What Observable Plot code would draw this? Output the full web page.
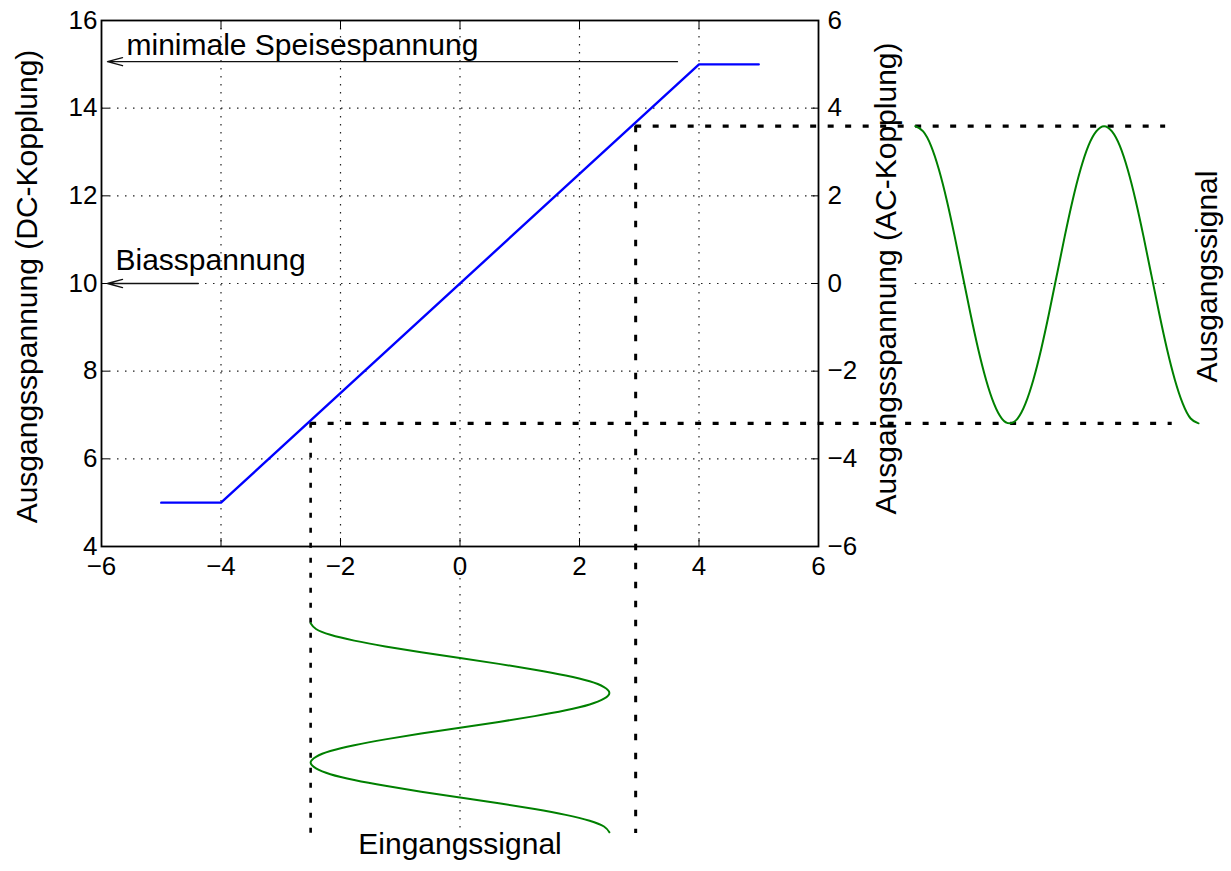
<!DOCTYPE html>
<html>
<head>
<meta charset="utf-8">
<script src="https://cdn.jsdelivr.net/npm/d3@7"></script>
<script src="https://cdn.jsdelivr.net/npm/@observablehq/plot@0.6"></script>
<style>
  html, body { margin: 0; padding: 0; background: #fff; }
  #chart { position: absolute; left: 0; top: 0; }
</style>
</head>
<body>
<div id="chart"></div>
<script>
// ---------- data ----------
// transfer characteristic (output DC voltage vs input voltage)
const transferX = [-5, -4, 4, 5];
const transferY = [5, 5, 15, 15];

// signals, sampled by phase (degrees)
const phase = [0,15,30,45,60,75,90,105,120,135,150,165,180,195,210,225,240,255,270,285,300,315,330,345,360,375,390,405,420,435,450,465,480,495,510,525,540];
const inputSignal = [-2.50,-2.41,-2.17,-1.77,-1.25,-0.65,0,0.65,1.25,1.77,2.17,2.41,2.50,2.41,2.17,1.77,1.25,0.65,0,-0.65,-1.25,-1.77,-2.17,-2.41,-2.50,-2.41,-2.17,-1.77,-1.25,-0.65,0,0.65,1.25,1.77,2.17,2.41,2.50];
const outputSignal = [3.59,3.47,3.14,2.60,1.90,1.08,0.20,-0.68,-1.50,-2.20,-2.74,-3.08,-3.19,-3.08,-2.74,-2.20,-1.50,-0.68,0.20,1.08,1.90,2.60,3.14,3.47,3.59,3.47,3.14,2.60,1.90,1.08,0.20,-0.68,-1.50,-2.20,-2.74,-3.08,-3.19];

const biasDC = 10;                 // AC = DC - bias
const markerIn = [-2.5, 2.94];     // input levels (vertical dashed)
const markerOut = [-3.19, 3.59];   // output levels AC (horizontal dashed)

const xTicks = [-6, -4, -2, 0, 2, 4, 6];
const dcTicks = [4, 6, 8, 10, 12, 14, 16];
const gridXTicks = [-4, -2, 0, 2, 4];
const gridYTicks = [6, 8, 10, 12, 14];

const annText = ["minimale Speisespannung", "Biasspannung"];
const annY = [15.06, 10];
const annFromX = [3.64, -4.38];
const annToX = [-5.9, -5.9];

// ---------- layout ----------
const W = 1231, H = 871;
const frameL = 101, frameR = 818, frameT = 20, frameB = 546;
// side panels placed in axis units (extrapolated scales)
const outPanelX = [7.62, 12.36];    // right panel: phase 0..540 along x
const inPanelY = [2.25, -2.52];     // bottom panel: phase 0..540 along y (DC units)
const zeroLineEndX = 11.86, upperDashEndX = 11.81, lowerDashEndX = 11.92;
const panelBottomY = -2.55, inZeroTopY = 3.45;

const outPos = d3.scaleLinear().domain([0, 540]).range(outPanelX);
const inPos = d3.scaleLinear().domain([0, 540]).range(inPanelY);
const outRows = phase.map((p, i) => ({x: outPos(p), y: outputSignal[i] + biasDC}));
const inRows = phase.map((p, i) => ({x: inputSignal[i], y: inPos(p)}));
const transfer = transferX.map((x, i) => ({x, y: transferY[i]}));
const ann = annText.map((t, i) => ({t, y: annY[i], x1: annFromX[i], x2: annToX[i]}));

const fmt = d3.format("d");
const dotted = {stroke: "#222", strokeWidth: 1.2, strokeDasharray: "1.5,6.5"};

const chart = Plot.plot({
  width: W, height: H,
  marginLeft: frameL, marginRight: W - frameR, marginTop: frameT, marginBottom: H - frameB,
  style: {fontFamily: "'Liberation Sans', Arial, sans-serif", fontSize: "26px", background: "#fff", color: "#000"},
  x: {domain: [-6, 6]},
  y: {domain: [4, 16]},
  marks: [
    Plot.gridX({ticks: gridXTicks, ...dotted, strokeOpacity: 1}),
    Plot.gridY({ticks: gridYTicks, ...dotted, strokeOpacity: 1}),
    Plot.ruleY([biasDC], {x1: outPanelX[0], x2: zeroLineEndX, ...dotted}),
    Plot.ruleX([0], {y1: inZeroTopY, y2: panelBottomY, ...dotted}),
    Plot.frame({stroke: "#000", strokeWidth: 1.8}),
    Plot.axisX({ticks: xTicks, anchor: "bottom", tickSize: -8, tickPadding: 18, label: null, tickFormat: fmt}),
    Plot.axisX({ticks: xTicks, anchor: "top", tickSize: -8, label: null, tickFormat: () => ""}),
    Plot.axisY({ticks: dcTicks, anchor: "left", tickSize: -8, tickPadding: 12, label: null, tickFormat: fmt}),
    Plot.axisY({ticks: dcTicks, anchor: "right", tickSize: -8, tickPadding: 17, label: null, tickFormat: d => fmt(d - biasDC)}),
    // dashed construction lines
    Plot.ruleY([markerOut[0] + biasDC], {x1: markerIn[0], x2: lowerDashEndX, stroke: "#000", strokeWidth: 3.2, strokeDasharray: "6,11.5"}),
    Plot.ruleY([markerOut[1] + biasDC], {x1: markerIn[1], x2: upperDashEndX, stroke: "#000", strokeWidth: 3.2, strokeDasharray: "6,11.5"}),
    Plot.ruleX([markerIn[0]], {y1: markerOut[0] + biasDC, y2: panelBottomY, stroke: "#000", strokeWidth: 2.6, strokeDasharray: "5,10"}),
    Plot.ruleX([markerIn[1]], {y1: markerOut[1] + biasDC, y2: panelBottomY, stroke: "#000", strokeWidth: 3, strokeDasharray: "6.5,12.5"}),
    // curves
    Plot.line(transfer, {x: "x", y: "y", stroke: "#0000ff", strokeWidth: 2.4}),
    Plot.line(outRows, {x: "x", y: "y", stroke: "#008000", strokeWidth: 2, curve: "natural"}),
    Plot.line(inRows, {x: "x", y: "y", stroke: "#008000", strokeWidth: 2, curve: "natural"}),
    // annotations
    Plot.arrow(ann, {x1: "x1", x2: "x2", y1: "y", y2: "y", stroke: "#111", strokeWidth: 1.3, headLength: 18, headAngle: 30}),
    Plot.text([ann[0]], {x: "x2", y: "y", text: "t", dx: 19, dy: -16, textAnchor: "start", fontSize: 30}),
    Plot.text([ann[1]], {x: "x2", y: "y", text: "t", dx: 8, dy: -23, textAnchor: "start", fontSize: 30}),
    // axis / panel labels
    Plot.text(["Ausgangsspannung (DC-Kopplung)"], {frameAnchor: "left", textAnchor: "middle", dx: -74, dy: 3, rotate: -90, fontSize: 30}),
    Plot.text(["Ausgangsspannung (AC-Kopplung)"], {frameAnchor: "right", textAnchor: "middle", dx: 68, dy: -5, rotate: -90, fontSize: 30}),
    Plot.text(["Ausgangssignal"], {frameAnchor: "right", textAnchor: "middle", dx: 389, dy: -7, rotate: -90, fontSize: 30}),
    Plot.text(["Eingangssignal"], {frameAnchor: "bottom", textAnchor: "middle", dy: 307, fontSize: 30})
  ]
});
document.getElementById("chart").appendChild(chart);
</script>
</body>
</html>
